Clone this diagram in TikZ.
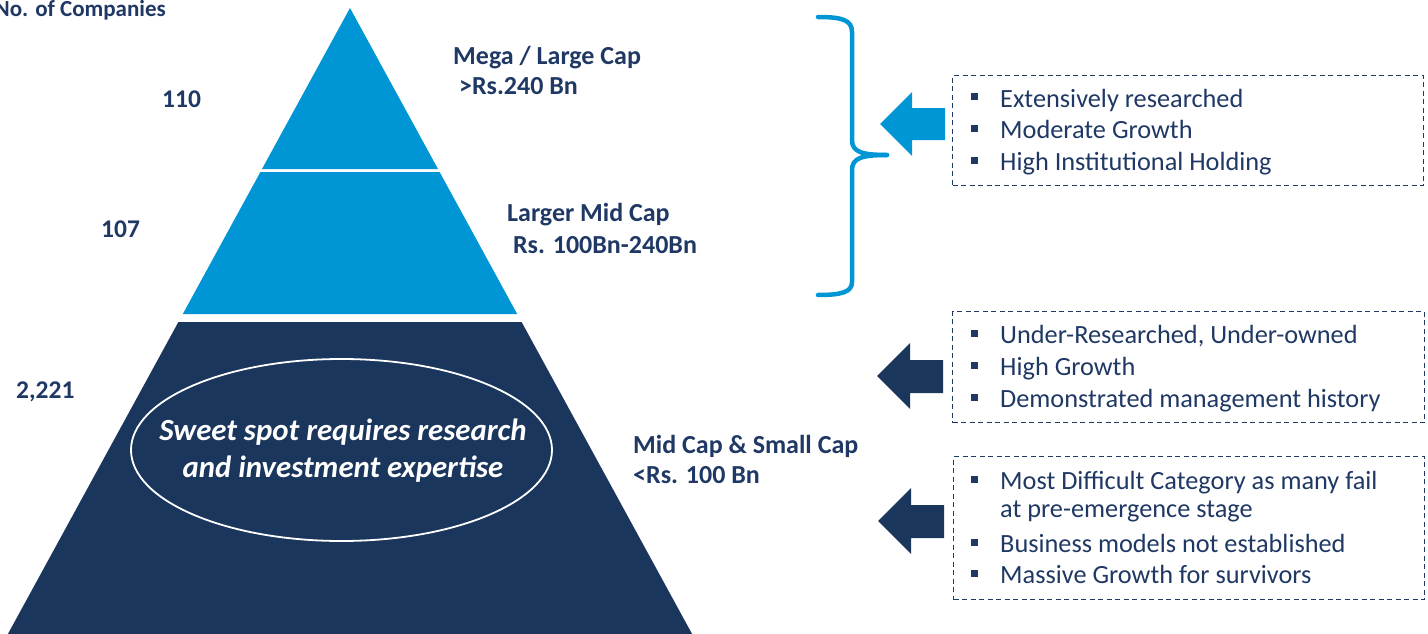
\documentclass[tikz,border=0pt]{standalone}
\usepackage{fontspec}
\setmainfont{Carlito}
\usetikzlibrary{shapes.geometric}
\definecolor{navy}{RGB}{31,56,100}
\definecolor{darkpyr}{RGB}{27,54,93}
\definecolor{lblue}{RGB}{0,150,214}
\begin{document}
\begin{tikzpicture}[x=1pt,y=-1pt,
  lab/.style={font=\fontsize{26}{30}\selectfont\bfseries, text=navy, inner sep=0pt, anchor=base west},
  num/.style={font=\fontsize{25.5}{30}\selectfont\bfseries, text=navy, inner sep=0pt, anchor=base west},
  item/.style={font=\fontsize{26.3}{30}\selectfont, text=navy, inner sep=0pt, anchor=base west},
  bul/.style={fill=navy, minimum size=7pt, inner sep=0pt},
  dbox/.style={draw=navy, line width=1.3pt, dash pattern=on 5pt off 3.5pt, anchor=north west, inner sep=0pt},
  sweettext/.style={font=\fontsize{30.8}{37}\selectfont\bfseries\itshape, text=white, anchor=base, inner sep=0pt},
  brace/.style={draw=lblue, line width=4.5pt, line cap=round, line join=round}]
\useasboundingbox (0,0) rectangle (1428,634);

% pyramid
\fill[lblue] (350,8) -- (438,169) -- (262,169) -- cycle;
\fill[lblue] (260.4,172) -- (439.6,172) -- (517.2,314) -- (182.8,314) -- cycle;
\fill[darkpyr] (178.4,322) -- (521.6,322) -- (692.1,634) -- (7.9,634) -- cycle;

\node[ellipse, draw=white, line width=1.8pt, minimum width=421pt, minimum height=182pt, inner sep=0pt] (sweet) at (341.5,450) {};
\node[sweettext] (sw1) at (343,440) {Sweet spot requires research};
\node[sweettext] (sw2) at (343,477) {and investment expertise};

% left labels
\node[font=\fontsize{23}{28}\selectfont\bfseries, text=navy, inner sep=0pt, anchor=base east] (title) at (166,17) {No. of Companies};
\node[num] (n1) at (162,107) {110};
\node[num] (n2) at (101,237) {107};
\node[num] (n3) at (16,398) {2,221};

% right labels
\node[lab] (l1a) at (453,65) {Mega / Large Cap};
\node[lab] (l1b) at (453,95) {\ >Rs.240 Bn};
\node[lab] (l2a) at (507,221) {Larger Mid Cap};
\node[lab] (l2b) at (507,253) {\ Rs. 100Bn-240Bn};
\node[lab] (l3a) at (633,453) {Mid Cap \& Small Cap};
\node[lab] (l3b) at (633,483) {<Rs. 100 Bn};

% brace
\draw[brace] (818,17) .. controls (842,17) and (852,20) .. (852,32) -- (852,140)
  .. controls (852,152) and (862,155) .. (887,155);
\draw[brace] (887,155) .. controls (862,155) and (852,158) .. (852,170) -- (852,282)
  .. controls (852,292) and (842,295) .. (818,295);

% dashed boxes
\node[dbox, minimum width=471pt, minimum height=110pt] (box1) at (952,75) {};
\node[dbox, minimum width=472pt, minimum height=111pt] (box2) at (952,311) {};
\node[dbox, minimum width=471pt, minimum height=143pt] (box3) at (953,456) {};

% block arrows
\coordinate (t1) at (880,124);
\coordinate (t2) at (877,376);
\coordinate (t3) at (878,521);
\fill[lblue] (t1) -- ++(32,-32) -- ++(0,16) -- ++(33,0) -- ++(0,32) -- ++(-33,0) -- ++(0,16) -- cycle;
\fill[darkpyr] (t2) -- ++(33,-33) -- ++(0,17) -- ++(33,0) -- ++(0,33) -- ++(-33,0) -- ++(0,16) -- cycle;
\fill[darkpyr] (t3) -- ++(33,-33) -- ++(0,17) -- ++(33,0) -- ++(0,33) -- ++(-33,0) -- ++(0,16) -- cycle;

% items box1
\node[bul] (b11) at (974,97) {};  \node[item] (i11) at (1000,107) {Extensively researched};
\node[bul] (b12) at (974,128.5) {}; \node[item] (i12) at (1000,138.5) {Moderate Growth};
\node[bul] (b13) at (974,160) {}; \node[item] (i13) at (1000,170) {High Institutional Holding};
% items box2
\node[bul] (b21) at (974,333) {}; \node[item] (i21) at (1000,343) {Under-Researched, Under-owned};
\node[bul] (b22) at (974,365) {}; \node[item] (i22) at (1000,375) {High Growth};
\node[bul] (b23) at (974,397) {}; \node[item] (i23) at (1000,407) {Demonstrated management history};
% items box3
\node[bul] (b31) at (974,479) {}; \node[item] (i31) at (1000,489) {Most Difficult Category as many fail};
\node[item] (i31b) at (1000,517) {at pre-emergence stage};
\node[bul] (b32) at (974,542) {}; \node[item] (i32) at (1000,552) {Business models not established};
\node[bul] (b33) at (974,573) {}; \node[item] (i33) at (1000,583) {Massive Growth for survivors};
\end{tikzpicture}
\end{document}
